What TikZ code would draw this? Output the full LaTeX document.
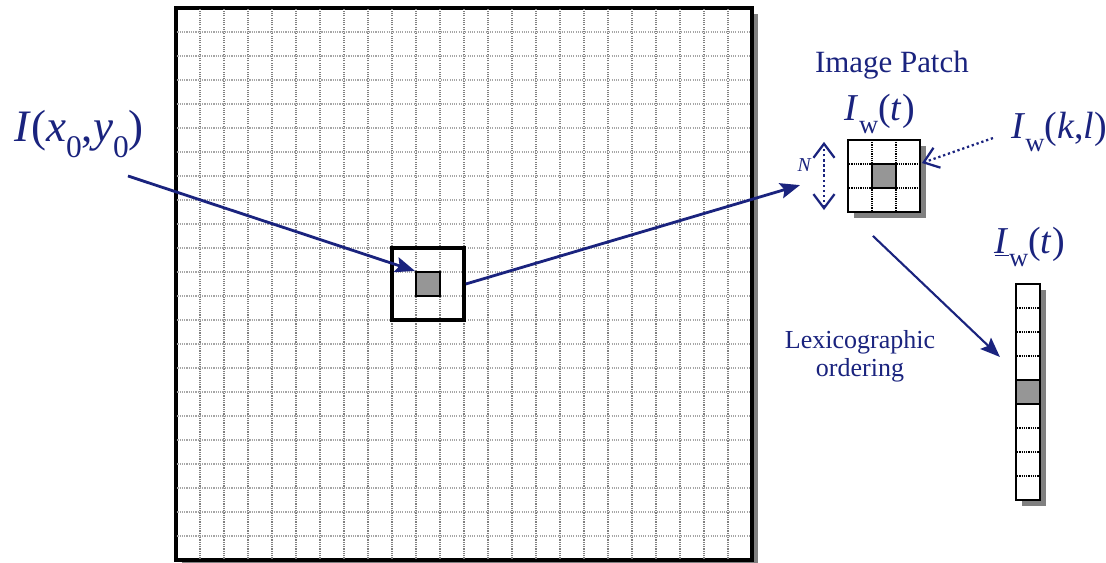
\documentclass[tikz,border=0pt]{standalone}
\usepackage{fontspec}
\setmainfont{Liberation Serif}
\usepackage{tikz}
\usetikzlibrary{arrows.meta,shadows}

\definecolor{inkblue}{RGB}{26,35,126}
\newcommand{\lsub}[1]{\raisebox{-0.75ex}{\scalebox{0.7}{#1}}}

\begin{document}
\begin{tikzpicture}[x=0.6cm, y=0.6cm,
    cell/.style={rectangle, draw=black, line width=1.5pt, inner sep=0pt, minimum size=0.6cm},
    pix/.style={cell, fill=black!41},
    shadowed/.style={drop shadow={shadow xshift=0.16cm, shadow yshift=-0.16cm, fill=black!50, opacity=1}},
    gridline/.style={draw=black!50, dash pattern=on 0.8pt off 0.8pt, line width=0.75pt},
    arr/.style={-{Stealth[length=14pt, width=11pt, inset=2.5pt]}, line width=2pt, draw=inkblue},
    barb/.tip={Straight Barb[length=10pt, width=15pt]},
    varr/.style={-barb, dotted, line width=1.6pt, draw=inkblue},
    lbl/.style={text=inkblue, inner sep=0pt, anchor=base}
]
\useasboundingbox (-7.333,-0.125) rectangle (38.75,23.333);

% full image
\node[cell, line width=2.2pt, fill=white, minimum width=14.4cm, minimum height=13.8cm, shadowed] (image) at (12,11.5) {};
\foreach \i in {1,...,23} \draw[gridline] (\i,0.06) -- (\i,22.94);
\foreach \j in {1,...,22} \draw[gridline, draw=black!35] (0.06,\j) -- (23.94,\j);

\node[pix] (pixel) at (10.5,11.5) {};
\node[cell, line width=2.6pt, minimum size=1.8cm] (window) at (10.5,11.5) {};

% patch
\node[cell, minimum size=1.8cm, fill=white, shadowed] (patch) at (29.5,16) {};
\foreach \i in {29,30} \draw[gridline, draw=black] (\i,14.55) -- (\i,17.45);
\foreach \j in {15.5,16.5} \draw[gridline, draw=black] (28.05,\j) -- (30.95,\j);
\node[pix] (patchpix) at (29.5,16) {};

% vector
\node[cell, minimum width=0.6cm, minimum height=5.4cm, fill=white, shadowed] (vec) at (35.5,7) {};
\foreach \j in {3.5,4.5,5.5,8.5,9.5,10.5} \draw[gridline, draw=black] (35.05,\j) -- (35.95,\j);
\node[pix] (vecpix) at (35.5,7) {};

% labels
\node[lbl, font=\fontsize{32}{36}\selectfont] (pos) at (-4.04,17.42) {\textit{I}(\textit{x}\lsub{0},\textit{y}\lsub{0})};
\node[lbl, font=\fontsize{22}{26}\selectfont] (title) at (29.83,20.33) {Image Patch};
\node[lbl, font=\fontsize{27}{30}\selectfont] (iwt) at (29.33,18.33) {\textit{I}\lsub{w}(\textit{t})};
\node[lbl, font=\fontsize{27}{30}\selectfont] (iwkl) at (36.79,17.58) {\textit{I}\lsub{w}(\textit{k},\textit{l})};
\node[lbl, font=\fontsize{14}{16}\selectfont\itshape] (nlbl) at (26.17,16.17) {N};
\node[lbl, font=\fontsize{27}{30}\selectfont] (iwvec) at (35.58,12.79) {\underline{\textit{I}}\lsub{w}(\textit{t})};
\node[text=inkblue, inner sep=0pt, align=center, font=\fontsize{18.5}{20}\selectfont] (lex) at (28.5,8.5) {Lexicographic\\ordering};

% connectors
\coordinate (src) at (-2,16);
\coordinate (patchin) at (26.0,15.62);
\coordinate (lexa) at (29.04,13.5);
\coordinate (lexb) at (34.33,8.46);
\coordinate (kla) at (34.04,17.58);
\coordinate (klb) at (31.08,16.54);
\coordinate (nbot) at (27,14.58);
\coordinate (ntop) at (27,17.42);

\draw[arr] (src) -- (pixel.north west);
\draw[arr] (window.east) -- (patchin);
\draw[arr, line width=1.5pt] (lexa) -- (lexb);
\draw[varr] (kla) -- (klb);
\draw[varr, barb-barb] (nbot) -- (ntop);

\end{tikzpicture}
\end{document}
